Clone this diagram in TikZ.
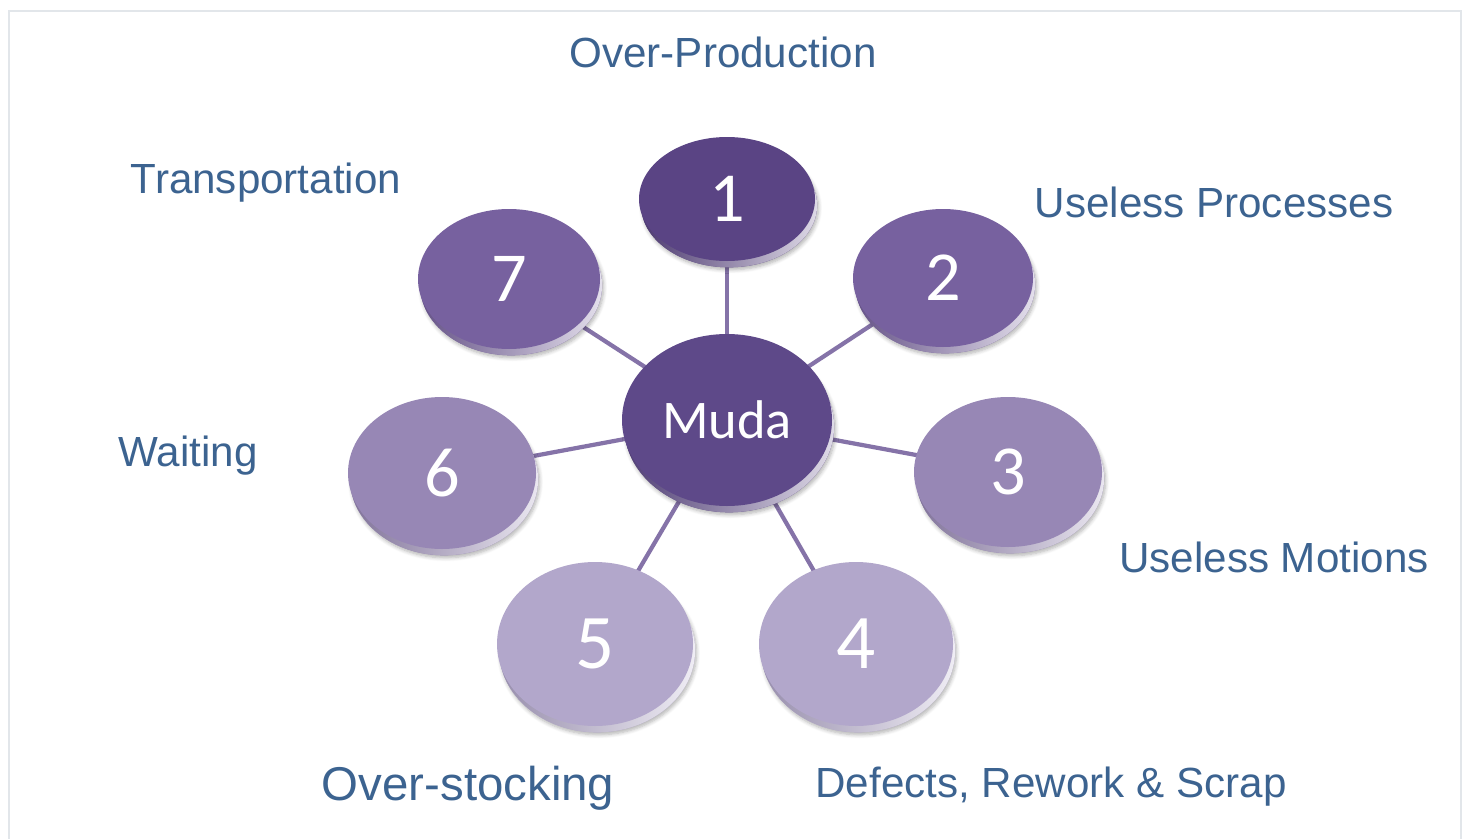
\documentclass[tikz,border=0pt]{standalone}
\usepackage{fontspec}
\setmainfont{Liberation Sans}
\newfontfamily\diskfont{Carlito}
\usetikzlibrary{shapes.geometric, shadows, shadows.blur, backgrounds}

\definecolor{labelblue}{HTML}{3C6390}
\definecolor{framegray}{HTML}{E2E6EA}
\definecolor{spokecol}{HTML}{8573A8}
\definecolor{mudacol}{HTML}{5E4989}
\definecolor{shadeA}{HTML}{5A4484}
\definecolor{shadeB}{HTML}{77619F}
\definecolor{shadeC}{HTML}{9787B5}
\definecolor{shadeD}{HTML}{B2A7CB}

\begin{document}
\begin{tikzpicture}[
  x=0.02cm, y=-0.02cm,
  disk/.style={ellipse, inner sep=0pt, text=white, fill=#1,
    font=\diskfont\fontsize{40}{40}\selectfont,
    blur shadow={shadow xshift=2pt, shadow yshift=-5pt, shadow blur steps=6, shadow opacity=30},
    copy shadow={shadow xshift=1.2pt, shadow yshift=-3.6pt, draw=none,
      left color=#1!85!black, right color=#1!20!white}},
  disksize/.style 2 args={minimum width=#1*0.02cm, minimum height=#2*0.02cm},
  label/.style={text=labelblue, font=\fontsize{24}{28}\selectfont},
  spoke/.style={draw=spokecol, line width=2.4pt}
]
\useasboundingbox (0,0) rectangle (1466,838);
\draw[framegray, line width=1.5pt] (9,850) -- (9,11) -- (1461,11) -- (1461,850);

% hub and the seven wastes
\node (muda) [disk=mudacol, disksize={210}{172}, font=\diskfont\fontsize{31}{31}\selectfont] at (727,420) {Muda};
\node (d1) [disk=shadeA, disksize={176}{124}] at (727,199) {1};
\node (d2) [disk=shadeB, disksize={180}{138}] at (943,278) {2};
\node (d3) [disk=shadeC, disksize={188}{150}] at (1008,472) {3};
\node (d4) [disk=shadeD, disksize={194}{164}, font=\diskfont\fontsize{44}{44}\selectfont] at (856,644) {4};
\node (d5) [disk=shadeD, disksize={196}{164}, font=\diskfont\fontsize{44}{44}\selectfont] at (595,644) {5};
\node (d6) [disk=shadeC, disksize={188}{152}] at (442,473) {6};
\node (d7) [disk=shadeB, disksize={182}{140}] at (509,279) {7};

% spokes sit behind the disks
\begin{pgfonlayer}{background}
  \foreach \d in {d1,d2,d3,d4,d5,d6,d7}
    \draw [spoke] (muda.center) -- (\d.center);
\end{pgfonlayer}

% labels
\node (overprod) [label] at (723,52) {Over-Production};
\node (useproc) [label] at (1214,202) {Useless Processes};
\node (usemot) [label] at (1274,557) {Useless Motions};
\node (defects) [label] at (1051,787) {Defects, Rework \& Scrap};
\node (overstock) [label, font=\fontsize{27}{30}\selectfont] at (468,788) {Over-stocking};
\node (waiting) [label] at (188,456) {Waiting};
\node (transp) [label] at (266,183) {Transportation};
\end{tikzpicture}
\end{document}
